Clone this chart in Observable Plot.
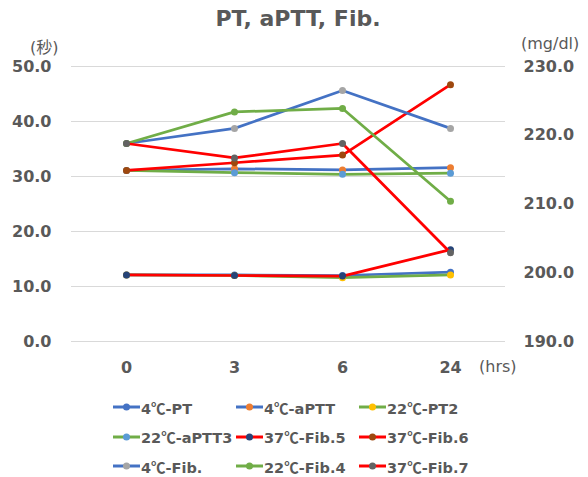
<!DOCTYPE html>
<html><head><meta charset="utf-8">
<script src="https://cdn.jsdelivr.net/npm/d3@7"></script>
<script src="https://cdn.jsdelivr.net/npm/@observablehq/plot@0.6"></script>
<style>
body{margin:0;background:#fff;}
#wrap{position:relative;width:588px;height:477px;font-family:"DejaVu Sans","Noto Sans CJK JP",sans-serif;color:#595959;}
#chart{position:absolute;left:0;top:0;}
#title{position:absolute;left:0;width:596px;top:6px;text-align:center;font-size:22px;font-weight:bold;}
.unit{position:absolute;top:34px;font-size:16px;}
#legend{position:absolute;left:113px;top:396px;display:grid;grid-template-columns:123px 123px 123px;row-gap:7.5px;font-size:14.5px;font-weight:bold;}
.item{display:flex;align-items:center;height:22px;white-space:nowrap;}
.item svg{margin-right:1px;}
.cjk{font-family:"Noto Sans CJK JP",sans-serif;font-weight:bold;}
</style></head><body>
<div id="wrap">
  <div id="chart"></div>
  <div id="title">PT, aPTT, Fib.</div>
  <div class="unit" style="left:30px">(秒)</div>
  <div class="unit" style="left:521px">(mg/dl)</div>
  <div class="unit" style="left:479px;top:357px">(hrs)</div>
  <div id="legend"></div>
</div>
<script>
const hours = ["0", "3", "6", "24"];
const names = ["4℃-PT", "4℃-aPTT", "22℃-PT2", "22℃-aPTT3", "37℃-Fib.5", "37℃-Fib.6", "4℃-Fib.", "22℃-Fib.4", "37℃-Fib.7"];
const lineColors = ["#4472C4", "#4472C4", "#70AD47", "#70AD47", "#FF0000", "#FF0000", "#4472C4", "#70AD47", "#FF0000"];
const dotColors = ["#4472C4", "#ED7D31", "#FFC000", "#5B9BD5", "#264478", "#9E480E", "#A5A5A5", "#70AD47", "#636363"];
const axisSide = ["left", "left", "left", "left", "left", "left", "right", "right", "right"];
const pt4 = [12.1, 12.1, 12.0, 12.6];
const aptt4 = [31.1, 31.4, 31.2, 31.6];
const pt22 = [12.1, 12.0, 11.6, 12.1];
const aptt22 = [31.1, 30.7, 30.4, 30.6];
const fib5_37 = [12.1, 12.0, 11.9, 16.7];
const fib6_37 = [31.1, 32.5, 33.9, 46.7];
const fib4 = [218.8, 221.0, 226.5, 221.0];
const fib22 = [218.8, 223.4, 223.9, 210.4];
const fib7_37 = [218.8, 216.7, 218.8, 202.9];
const seriesValues = [pt4, aptt4, pt22, aptt22, fib5_37, fib6_37, fib4, fib22, fib7_37];
const leftTicks = [0, 10, 20, 30, 40, 50];
const rightTicks = [190, 200, 210, 220, 230];

// right axis (190–230) mapped onto left scale (0–50)
const rightToLeft = v => (v - 190) * 50 / 40;
const leftToRight = v => 190 + v * 40 / 50;

const marks = [
  Plot.gridY(leftTicks, {stroke: "#d9d9d9", strokeOpacity: 1, strokeWidth: 1}),
  Plot.axisY(leftTicks, {anchor: "left", tickSize: 0, tickPadding: 20, tickFormat: d => d.toFixed(1), label: null}),
  Plot.axisY(rightTicks.map(rightToLeft), {anchor: "right", tickSize: 0, tickPadding: 18, tickFormat: d => leftToRight(d).toFixed(1), label: null}),
  Plot.axisX({tickSize: 0, tickPadding: 20, label: null})
];
names.forEach((name, i) => {
  const rows = hours.map((h, j) => ({hour: h, value: seriesValues[i][j]}));
  const yf = axisSide[i] === "right" ? d => rightToLeft(d.value) : d => d.value;
  marks.push(Plot.line(rows, {x: "hour", y: yf, stroke: lineColors[i], strokeWidth: 2.75, strokeLinejoin: "round", strokeLinecap: "round"}));
  marks.push(Plot.dot(rows, {x: "hour", y: yf, r: 3.5, fill: dotColors[i], stroke: "none"}));
});

const chart = Plot.plot({
  width: 588,
  height: 477,
  marginLeft: 71,
  marginRight: 83,
  marginTop: 66,
  marginBottom: 136,
  x: {type: "point", domain: hours, padding: 0.5},
  y: {domain: [0, 50]},
  style: {fontFamily: '"DejaVu Sans","Noto Sans CJK JP",sans-serif', fontSize: "16px", fontWeight: "bold", color: "#595959", background: "transparent"},
  marks
});
document.getElementById("chart").appendChild(chart);

const legend = document.getElementById("legend");
names.forEach((name, i) => {
  const item = document.createElement("div");
  item.className = "item";
  const label = name.replace("℃", '<span class="cjk">℃</span>');
  item.innerHTML = `<svg width="27" height="10"><line x1="0" x2="27" y1="5" y2="5" stroke="${lineColors[i]}" stroke-width="3"/><circle cx="13.5" cy="5" r="3.5" fill="${dotColors[i]}"/></svg><span>${label}</span>`;
  legend.appendChild(item);
});
</script>
</body></html>
